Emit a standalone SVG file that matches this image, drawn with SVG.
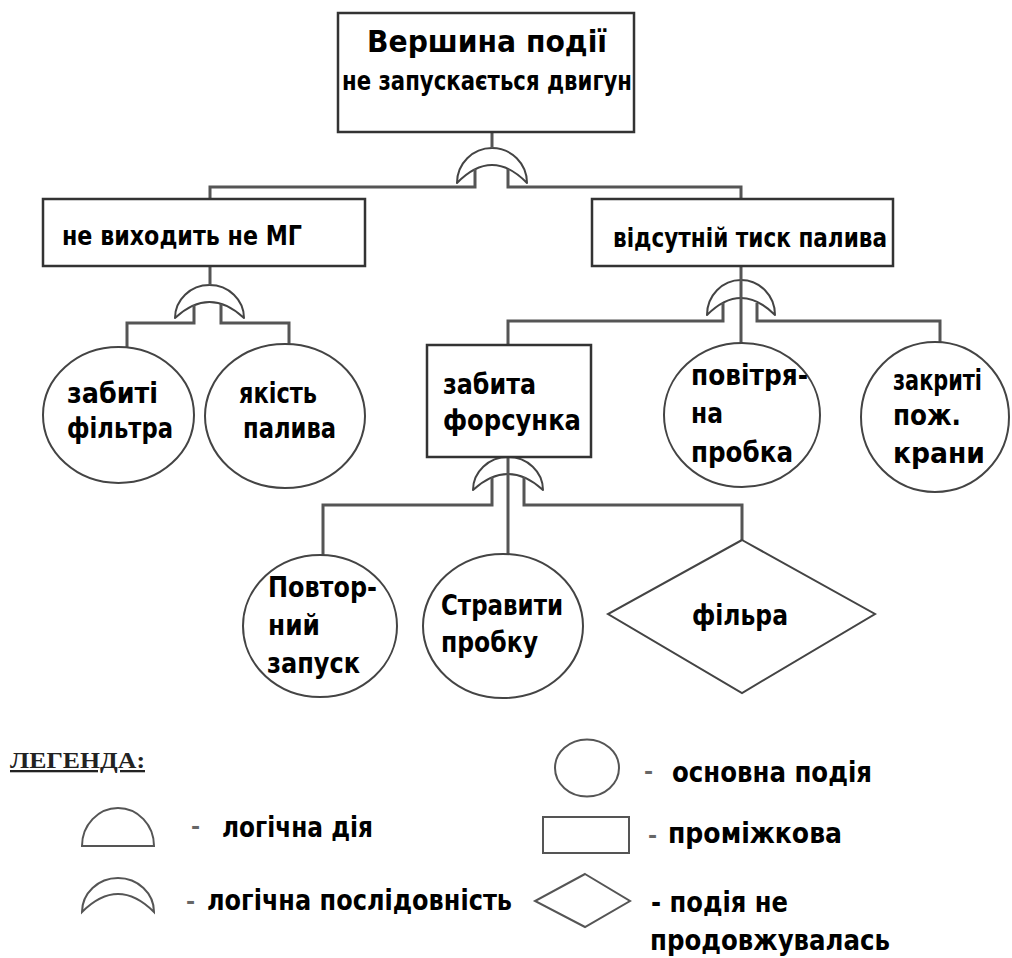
<svg xmlns="http://www.w3.org/2000/svg" width="1012" height="958" viewBox="0 0 1012 958">
<style>
.bg{fill:#fff}
.box{fill:#fff;stroke:#333;stroke-width:2.5}
.ev{fill:#fff;stroke:#444;stroke-width:2}
.gate{fill:#fff;stroke:#444;stroke-width:2;stroke-linejoin:round}
.ln{fill:none;stroke:#555;stroke-width:3}
.lg{fill:none;stroke:#555;stroke-width:2}
.t{font-family:"DejaVu Sans","Liberation Sans",sans-serif;font-weight:bold;fill:#000}
.s27{font-size:30px}
.s24{font-size:26px}
.s26{font-size:29px}
.s20{font-size:20px}
.leg{font-family:"Liberation Serif","Times New Roman",serif;font-size:23px;font-weight:bold;fill:#222;text-decoration:underline}
.dash{font-family:"DejaVu Sans",sans-serif;font-size:22px;font-weight:bold;fill:#666}
</style>
<rect class="bg" x="0" y="0" width="1012" height="958"/>

<g id="gates">
  <path id="gateA" class="gate" d="M457,183 A35,35 0 0 1 527,183 Q492,147 457,183 Z"/>
  <path id="gateB" class="gate" d="M175,318 A34.5,33 0 0 1 244,318 Q209.5,286 175,318 Z"/>
  <path id="gateC" class="gate" d="M707,315 A34,35 0 0 1 775,315 Q741,281 707,315 Z"/>
  <path id="gateD" class="gate" d="M473,490 A35,33 0 0 1 543,490 Q508,458 473,490 Z"/>
</g>

<g id="connectors">
  <path class="ln" d="M492,132 V148"/>
  <path class="ln" d="M475,169 V187 H210 V199"/>
  <path class="ln" d="M508,169 V187 H741 V199"/>
  <path class="ln" d="M210,266 V285"/>
  <path class="ln" d="M194,305 V323 H127 V348"/>
  <path class="ln" d="M221,304 V323 H289 V345"/>
  <path class="ln" d="M741,266 V343"/>
  <path class="ln" d="M723,303 V321 H508 V345"/>
  <path class="ln" d="M757,303 V321 H940 V342"/>
  <path class="ln" d="M508,457 V554"/>
  <path class="ln" d="M492,477 V505 H323 V555"/>
  <path class="ln" d="M524,477 V505 H742 V540"/>
</g>

<g id="top">
  <rect class="box" x="338" y="13" width="296" height="119"/>
  <text class="t s27" x="367" y="52" textLength="240" lengthAdjust="spacingAndGlyphs">Вершина події</text>
  <text class="t s24" x="342" y="90" textLength="290" lengthAdjust="spacingAndGlyphs">не запускається двигун</text>
</g>

<g id="mg">
  <rect class="box" x="43" y="199" width="322" height="67"/>
  <text class="t s24" x="62" y="245" textLength="240" lengthAdjust="spacingAndGlyphs">не виходить не МГ</text>
</g>

<g id="pressure">
  <rect class="box" x="592" y="199" width="301" height="67"/>
  <text class="t s24" x="613" y="247" textLength="274" lengthAdjust="spacingAndGlyphs">відсутній тиск палива</text>
</g>

<g id="filters">
  <ellipse class="ev" cx="118.5" cy="415" rx="75.5" ry="68"/>
  <text class="t s26" x="67" y="403" textLength="91" lengthAdjust="spacingAndGlyphs">забиті</text>
  <text class="t s26" x="67" y="438" textLength="106" lengthAdjust="spacingAndGlyphs">фільтра</text>
</g>

<g id="quality">
  <ellipse class="ev" cx="285" cy="416" rx="80" ry="72"/>
  <text class="t s26" x="239" y="403" textLength="78" lengthAdjust="spacingAndGlyphs">якість</text>
  <text class="t s26" x="243" y="438" textLength="93" lengthAdjust="spacingAndGlyphs">палива</text>
</g>

<g id="injector">
  <rect class="box" x="427" y="345" width="164" height="112"/>
  <text class="t s26" x="443" y="394" textLength="93" lengthAdjust="spacingAndGlyphs">забита</text>
  <text class="t s26" x="443" y="430" textLength="138" lengthAdjust="spacingAndGlyphs">форсунка</text>
</g>

<g id="airlock">
  <ellipse class="ev" cx="742" cy="415" rx="78" ry="72"/>
  <text class="t s26" x="691" y="385" textLength="117" lengthAdjust="spacingAndGlyphs">повітря-</text>
  <text class="t s26" x="691" y="423" textLength="32" lengthAdjust="spacingAndGlyphs">на</text>
  <text class="t s26" x="691" y="462" textLength="102" lengthAdjust="spacingAndGlyphs">пробка</text>
</g>

<g id="valves">
  <ellipse class="ev" cx="935" cy="417" rx="74" ry="75"/>
  <text class="t s20" transform="translate(893,390) scale(1,1.45)" x="0" y="0" textLength="89" lengthAdjust="spacingAndGlyphs">закриті</text>
  <text class="t s26" x="893" y="425" textLength="68" lengthAdjust="spacingAndGlyphs">пож.</text>
  <text class="t s26" x="893" y="463" textLength="92" lengthAdjust="spacingAndGlyphs">крани</text>
</g>

<g id="restart">
  <ellipse class="ev" cx="320" cy="626" rx="77" ry="71"/>
  <text class="t s26" x="268" y="597" textLength="109" lengthAdjust="spacingAndGlyphs">Повтор-</text>
  <text class="t s26" x="268" y="635" textLength="52" lengthAdjust="spacingAndGlyphs">ний</text>
  <text class="t s26" x="267" y="673" textLength="93" lengthAdjust="spacingAndGlyphs">запуск</text>
</g>

<g id="bleed">
  <ellipse class="ev" cx="503" cy="626" rx="80" ry="72"/>
  <text class="t s26" x="441" y="615" textLength="122" lengthAdjust="spacingAndGlyphs">Стравити</text>
  <text class="t s26" x="441" y="652" textLength="97" lengthAdjust="spacingAndGlyphs">пробку</text>
</g>

<g id="filter-diamond">
  <polygon class="ev" points="742,540 875,614 742,693 608,614"/>
  <text class="t s26" x="692" y="625" textLength="96" lengthAdjust="spacingAndGlyphs">фільра</text>
</g>

<g id="legend">
  <text class="leg" x="10" y="768" textLength="135" lengthAdjust="spacingAndGlyphs">ЛЕГЕНДА:</text>

  <path class="lg" d="M82,846 A36,38 0 0 1 154,846 Z"/>
  <text class="dash" x="191" y="834">-</text>
  <text class="t s26" x="222" y="837" textLength="151" lengthAdjust="spacingAndGlyphs">логічна дія</text>

  <path class="lg" d="M82,912 A36,34 0 0 1 154,912 Q118,876 82,912 Z"/>
  <text class="dash" x="186" y="909">-</text>
  <text class="t s26" x="207" y="910" textLength="305" lengthAdjust="spacingAndGlyphs">логічна послідовність</text>

  <ellipse class="lg" cx="587" cy="768" rx="32" ry="28.5"/>
  <text class="dash" x="644" y="779">-</text>
  <text class="t s26" x="672" y="782" textLength="200" lengthAdjust="spacingAndGlyphs">основна подія</text>

  <rect class="lg" x="543" y="817" width="86" height="36"/>
  <text class="dash" x="648" y="843">-</text>
  <text class="t s26" x="668" y="843" textLength="174" lengthAdjust="spacingAndGlyphs">проміжкова</text>

  <polygon class="lg" points="585,874 630,901 585,927 535,901"/>
  <text class="t s26" x="651" y="912" textLength="137" lengthAdjust="spacingAndGlyphs">- подія не</text>
  <text class="t s26" x="650" y="950" textLength="240" lengthAdjust="spacingAndGlyphs">продовжувалась</text>
</g>
</svg>
